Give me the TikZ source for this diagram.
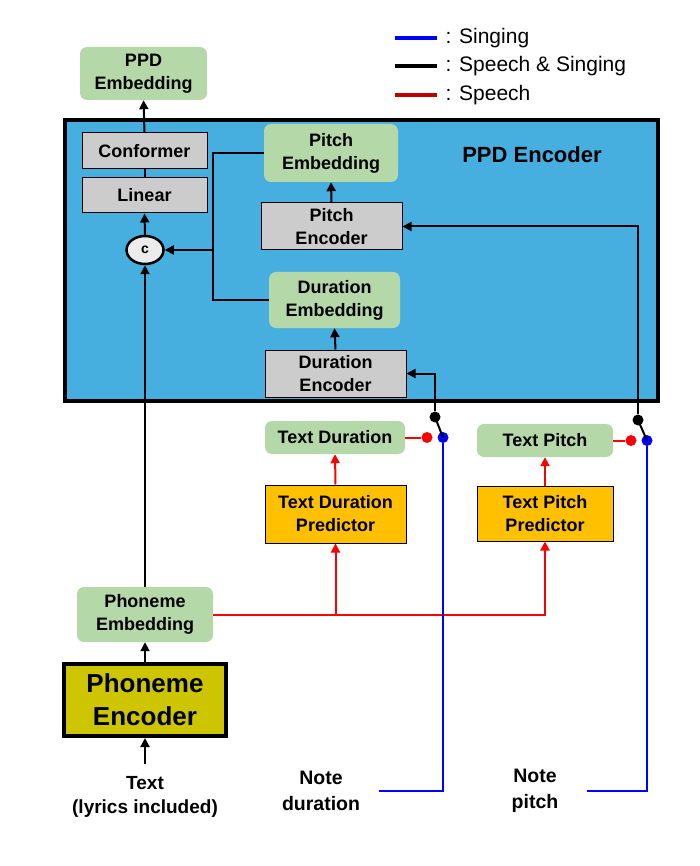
\documentclass[tikz,border=0pt]{standalone}
\usepackage{fontspec}
\setmainfont{Liberation Sans}
\usetikzlibrary{arrows.meta,shapes.geometric}

\definecolor{encblue}{HTML}{46AFE0}
\definecolor{embgreen}{HTML}{B5D8A9}
\definecolor{boxgray}{HTML}{CCCCCC}
\definecolor{predorange}{HTML}{FFC000}
\definecolor{phonolive}{HTML}{CCC500}
\definecolor{legred}{HTML}{C00000}

\tikzset{
  boxfont/.style={font=\fontsize{18}{23}\selectfont\bfseries},
  embbox/.style={rectangle, rounded corners=7pt, fill=embgreen, align=center, inner sep=0pt, boxfont},
  grybox/.style={rectangle, draw, line width=1pt, fill=boxgray, align=center, inner sep=0pt, boxfont},
  predbox/.style={rectangle, draw, line width=1pt, fill=predorange, align=center, inner sep=0pt, boxfont},
  lbl/.style={align=center, font=\fontsize{19.5}{26}\selectfont\bfseries},
  tip/.style={-{Triangle[length=9pt,width=9pt]}},
  arr/.style={line width=2pt, tip},
  wire/.style={line width=2pt},
  speech/.style={red, line width=2pt},
  singing/.style={blue, line width=2pt},
  swdot/.style={circle, inner sep=0pt, minimum size=11pt},
}

\begin{document}
\begin{tikzpicture}[x=1pt,y=-1pt]
\useasboundingbox (0,0) rectangle (700,866);

% legend
\draw[blue, line width=4pt] (395,38) -- (437,38);
\node[anchor=west, font=\fontsize{21}{24}\selectfont] (legsing) at (442,38) {: Singing};
\draw[black, line width=4pt] (395,66) -- (437,66);
\node[anchor=west, font=\fontsize{21}{24}\selectfont] (legboth) at (442,66) {: Speech \& Singing};
\draw[legred, line width=4pt] (395,95) -- (437,95);
\node[anchor=west, font=\fontsize{21}{24}\selectfont] (legspeech) at (442,95) {: Speech};

% PPD encoder frame
\draw[line width=4pt, fill=encblue] (65,120) rectangle (658,401);
\node[font=\fontsize{22}{26}\selectfont\bfseries] (ppdtitle) at (532,155) {PPD Encoder};

\node[embbox, minimum width=127pt, minimum height=53pt] (ppdemb) at (143.5,73.5) {PPD\\Embedding};
\node[grybox, minimum width=125pt, minimum height=36pt] (conformer) at (144.5,151) {Conformer};
\node[grybox, minimum width=125pt, minimum height=35pt] (linear) at (144.5,195.5) {Linear};
\node[ellipse, draw, line width=2.5pt, fill=gray!15, minimum width=37pt, minimum height=28pt, inner sep=0pt,
      font=\fontsize{14}{16}\selectfont\bfseries] (cat) at (145,250) {c};

\node[embbox, minimum width=134pt, minimum height=58pt] (pitchemb) at (331,153) {Pitch\\Embedding};
\node[grybox, minimum width=141pt, minimum height=47pt] (pitchenc) at (331.5,226.5) {Pitch\\Encoder};
\node[embbox, minimum width=131pt, minimum height=56pt] (duremb) at (334.5,300) {Duration\\Embedding};
\node[grybox, minimum width=141pt, minimum height=47pt] (durenc) at (335.5,373.5) {Duration\\Encoder};

% predictors
\node[embbox, minimum width=140pt, minimum height=33pt] (textdur) at (335,437.5) {Text Duration};
\node[predbox, minimum width=141pt, minimum height=58pt] (textdurpred) at (335.5,514) {Text Duration\\Predictor};
\node[embbox, minimum width=136pt, minimum height=33pt] (textpitch) at (545,440.5) {Text Pitch};
\node[predbox, minimum width=136pt, minimum height=55pt] (textpitchpred) at (545,513.5) {Text Pitch\\Predictor};

% phoneme side
\node[embbox, minimum width=136pt, minimum height=55pt] (phonemb) at (145,614.5) {Phoneme\\Embedding};
\node[rectangle, draw, line width=4pt, fill=phonolive, minimum width=162pt, minimum height=72pt, inner sep=0pt,
      align=center, font=\fontsize{26}{33}\selectfont\bfseries] (phonenc) at (145,700) {Phoneme\\Encoder};
\node[lbl, font=\fontsize{19}{24}\selectfont\bfseries] (textin) at (145,797) {Text\\(lyrics included)};
\node[lbl] (notedur) at (321,791) {Note\\duration};
\node[lbl] (notepitch) at (535,791) {Note\\pitch};

% switches
\coordinate (tdsrc) at (145,764);
\coordinate (ndend) at (379,791);
\coordinate (npend) at (587,791);
\coordinate (jcat) at (213,250);
\node[swdot, fill=red] (rdd) at (427,437.5) {};
\node[swdot, fill=blue] (bdd) at (443,437.5) {};
\node[swdot, fill=black] (kdd) at (435,417) {};
\node[swdot, fill=red] (rpd) at (631,440.5) {};
\node[swdot, fill=blue] (bpd) at (647,440.5) {};
\node[swdot, fill=black] (kpd) at (638,420) {};

% connectors
\draw[arr] (tdsrc) -- (phonenc.south);
\draw[arr] (phonenc.north) -- (phonemb.south);
\draw[arr] (phonemb.north) -- (cat.south);
\draw[arr] (cat.north) -- (linear.south);
\draw[wire] (linear.north) -- (conformer.south);
\draw[arr] (conformer.north) -- (ppdemb.south);
\draw[wire] (pitchemb.west) -| (jcat) |- (duremb.west);
\draw[arr] (jcat) -- (cat.east);
\draw[arr] (pitchenc.north) -- (pitchemb.south);
\draw[arr] (durenc.north) -- (duremb.south);

\draw[speech, tip] (phonemb.east) -| (textdurpred.south);
\draw[speech, tip] (phonemb.east) -| (textpitchpred.south);
\draw[speech, tip] (textdurpred.north) -- (textdur.south);
\draw[speech, tip] (textpitchpred.north) -- (textpitch.south);
\draw[speech] (textdur.east) -- (rdd);
\draw[speech] (textpitch.east) -- (rpd);

\draw[singing] (ndend) -| (bdd);
\draw[singing] (npend) -| (bpd);

\draw[wire] (kdd.center) -- (bdd.center);
\draw[wire] (kpd.center) -- (bpd.center);
\draw[arr] (kdd) |- (durenc.east);
\draw[arr] (kpd) |- (pitchenc.east);
\end{tikzpicture}
\end{document}
